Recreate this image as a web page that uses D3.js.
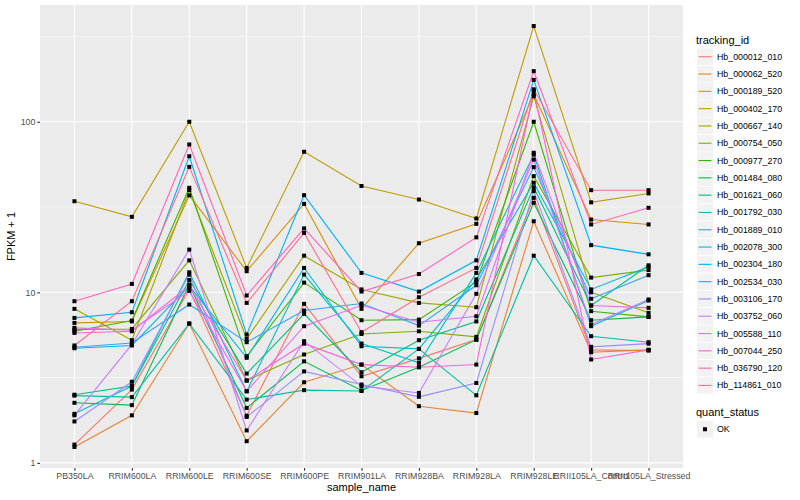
<!DOCTYPE html>
<html>
<head>
<meta charset="utf-8">
<script src="https://cdn.jsdelivr.net/npm/d3@7"></script>
<style>
  body { margin: 0; background: #fff; }
  text { font-family: "Liberation Sans", Arial, sans-serif; }
</style>
</head>
<body>
<svg id="chart" width="800" height="500"></svg>
<script>
const samples = ["PB350LA", "RRIM600LA", "RRIM600LE", "RRIM600SE", "RRIM600PE", "RRIM901LA",
  "RRIM928BA", "RRIM928LA", "RRIM928LE", "RRII105LA_Control", "RRII105LA_Stressed"]

const trackingIds = ["Hb_000012_010", "Hb_000062_520", "Hb_000189_520", "Hb_000402_170", "Hb_000667_140",
  "Hb_000754_050", "Hb_000977_270", "Hb_001484_080", "Hb_001621_060", "Hb_001792_030",
  "Hb_001889_010", "Hb_002078_300", "Hb_002304_180", "Hb_002534_030", "Hb_003106_170",
  "Hb_003752_060", "Hb_005588_110", "Hb_007044_250", "Hb_036790_120", "Hb_114861_010"]

// FPKM + 1 per tracking id, in sample order
const fpkm = [
  [1.28, 2.69, 10.4, 1.89, 8.56, 3.22, 4.1, 5.28, 35.8, 4.6, 4.55],
  [1.24, 1.90, 6.56, 1.34, 2.97, 3.77, 2.15, 1.96, 26.1, 4.45, 4.6],
  [6.62, 6.75, 37.0, 13.3, 33.0, 8.0, 19.4, 25.2, 145, 26.7, 25.0],
  [34.2, 27.7, 100, 13.9, 66.7, 42.0, 35.0, 27.1, 364, 33.7, 38.0],
  [8.0, 5.24, 39.7, 5.34, 16.4, 10.4, 8.67, 8.18, 141, 10.0, 7.58],
  [6.05, 6.1, 15.4, 3.04, 4.32, 5.7, 5.91, 5.48, 48.0, 12.2, 13.5],
  [5.91, 6.83, 41.0, 4.22, 11.4, 6.86, 6.92, 11.5, 100, 7.75, 7.18],
  [2.25, 2.18, 11.1, 2.1, 3.94, 2.66, 3.64, 5.28, 33.5, 6.86, 7.18],
  [2.51, 2.82, 11.8, 3.34, 7.48, 3.4, 5.24, 6.75, 41.3, 8.37, 14.4],
  [2.48, 2.43, 6.56, 2.35, 2.67, 2.64, 4.66, 2.49, 16.4, 5.53, 5.1],
  [1.94, 2.82, 13.1, 2.63, 12.7, 5.01, 3.86, 13.0, 64.2, 6.33, 8.95],
  [4.7, 4.88, 10.9, 4.13, 13.9, 4.83, 4.66, 11.9, 43.9, 10.4, 14.1],
  [7.08, 7.64, 62.8, 5.66, 37.1, 13.0, 10.1, 15.4, 176, 18.9, 16.7],
  [4.76, 5.05, 8.48, 5.1, 7.82, 8.6, 6.38, 11.0, 54.2, 9.16, 12.6],
  [1.75, 2.99, 12.7, 1.86, 3.44, 2.88, 2.44, 2.94, 39.2, 4.79, 5.0],
  [1.90, 4.95, 17.8, 1.55, 5.17, 2.82, 2.57, 9.8, 60.0, 6.47, 9.08],
  [6.19, 5.99, 10.2, 2.63, 6.33, 8.4, 6.68, 7.24, 65.8, 8.37, 8.11],
  [5.78, 5.91, 10.9, 3.04, 5.0, 3.77, 3.64, 3.77, 152, 4.04, 4.6],
  [8.87, 11.2, 73.6, 9.58, 23.7, 10.1, 12.8, 21.0, 198, 25.0, 31.3],
  [4.88, 8.87, 54.4, 8.67, 22.3, 5.84, 9.36, 13.9, 155, 39.7, 39.7]
]

const yTicks = [1, 10, 100]
const yMinor = [Math.sqrt(10), Math.sqrt(1000), Math.sqrt(100000)]
const quantStatus = ["OK"]

const colors = ["#F8766D", "#EA8331", "#D89000", "#C09B00", "#A3A500", "#7CAE00", "#39B600", "#00BB4E",
  "#00BF7D", "#00C1A3", "#00BFC4", "#00BAE0", "#00B0F6", "#35A2FF", "#9590FF", "#C77CFF",
  "#E76BF3", "#FA62DB", "#FF62BC", "#FF6C91"]

const panel = {left: 40, right: 683, top: 5, bottom: 468}
const svg = d3.select("#chart")

// log range with 5% expansion like ggplot
const all = fpkm.flat()
const lo = Math.log10(d3.min(all)), hi = Math.log10(d3.max(all))
const pad = (hi - lo) * 0.05

const x = d3.scalePoint().domain(samples).range([panel.left, panel.right]).padding(0.6)
const y = d3.scaleLog().domain([10 ** (lo - pad), 10 ** (hi + pad)]).range([panel.bottom, panel.top])
const color = d3.scaleOrdinal().domain(trackingIds).range(colors)

svg.append("rect")
  .attr("x", panel.left).attr("y", panel.top)
  .attr("width", panel.right - panel.left).attr("height", panel.bottom - panel.top)
  .attr("fill", "#EBEBEB")

const grid = svg.append("g")
grid.selectAll("line.minor").data(yMinor).join("line")
  .attr("x1", panel.left).attr("x2", panel.right)
  .attr("y1", d => y(d)).attr("y2", d => y(d))
  .attr("stroke", "#fff").attr("stroke-width", 0.55)
grid.selectAll("line.major").data(yTicks).join("line")
  .attr("x1", panel.left).attr("x2", panel.right)
  .attr("y1", d => y(d)).attr("y2", d => y(d))
  .attr("stroke", "#fff").attr("stroke-width", 1.1)
grid.selectAll("line.vx").data(samples).join("line")
  .attr("x1", d => x(d)).attr("x2", d => x(d))
  .attr("y1", panel.top).attr("y2", panel.bottom)
  .attr("stroke", "#fff").attr("stroke-width", 1.1)

const line = d3.line().x((d, i) => x(samples[i])).y(d => y(d))

svg.append("g").selectAll("path").data(fpkm).join("path")
  .attr("d", line)
  .attr("fill", "none")
  .attr("stroke", (d, i) => color(trackingIds[i]))
  .attr("stroke-width", 1.1)

svg.append("g").selectAll("g").data(fpkm).join("g")
  .selectAll("rect").data(d => d).join("rect")
  .attr("x", (d, i) => x(samples[i]) - 2).attr("y", d => y(d) - 2)
  .attr("width", 4).attr("height", 4)
  .attr("fill", "#000")

// axes
const xAxis = svg.append("g")
  .attr("transform", `translate(0,${panel.bottom})`)
  .call(d3.axisBottom(x).tickSize(2.7).tickPadding(2))
const yAxis = svg.append("g")
  .attr("transform", `translate(${panel.left},0)`)
  .call(d3.axisLeft(y).tickValues(yTicks).tickFormat(d3.format("d")).tickSize(2.7).tickPadding(2))

for (const ax of [xAxis, yAxis]) {
  ax.select(".domain").remove()
  ax.selectAll(".tick line").attr("stroke", "#333").attr("stroke-width", 1.1)
  ax.selectAll(".tick text").attr("fill", "#4D4D4D").style("font-size", "8.8px")
}

svg.append("text")
  .attr("x", (panel.left + panel.right) / 2).attr("y", 491)
  .attr("text-anchor", "middle").style("font-size", "11px").attr("fill", "#000")
  .text("sample_name")
svg.append("text")
  .attr("transform", `translate(15,${(panel.top + panel.bottom) / 2}) rotate(-90)`)
  .attr("text-anchor", "middle").style("font-size", "11px").attr("fill", "#000")
  .text("FPKM + 1")

// legends
const legend = svg.append("g").attr("transform", "translate(696,0)")
legend.append("text").attr("x", 0).attr("y", 44).style("font-size", "11px").text("tracking_id")

const keyStep = 17.3, keyTop = 48.5
const keys = legend.selectAll("g.key").data(trackingIds).join("g")
  .attr("transform", (d, i) => `translate(0,${keyTop + i * keyStep})`)
keys.append("rect").attr("x", 1).attr("y", 0).attr("width", 16).attr("height", 16.5).attr("fill", "#F2F2F2")
keys.append("line").attr("x1", 2.5).attr("x2", 15.5).attr("y1", 8.25).attr("y2", 8.25)
  .attr("stroke", d => color(d)).attr("stroke-width", 1.1)
keys.append("text").attr("x", 21).attr("y", 11.3).style("font-size", "8.8px").attr("fill", "#000").text(d => d)

legend.append("text").attr("x", 0).attr("y", 416).style("font-size", "11px").text("quant_status")
const qk = legend.selectAll("g.qkey").data(quantStatus).join("g")
  .attr("transform", (d, i) => `translate(0,${421 + i * keyStep})`)
qk.append("rect").attr("x", 1).attr("y", 0).attr("width", 16).attr("height", 16.5).attr("fill", "#F2F2F2")
qk.append("rect").attr("x", 7).attr("y", 6.25).attr("width", 4).attr("height", 4).attr("fill", "#000")
qk.append("text").attr("x", 21).attr("y", 11.3).style("font-size", "8.8px").attr("fill", "#000").text(d => d)
</script>
</body>
</html>
